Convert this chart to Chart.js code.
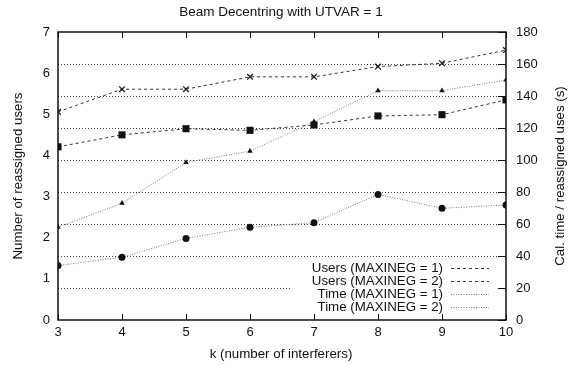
<!DOCTYPE html>
<html>
<head>
<meta charset="utf-8">
<script src="https://cdn.jsdelivr.net/npm/chart.js@4/dist/chart.umd.min.js"></script>
<style>
  html, body { margin: 0; padding: 0; background: #fff; }
  #wrap { width: 579px; height: 365px; }
</style>
</head>
<body>
<div id="wrap"><canvas id="chart" width="579" height="365"></canvas></div>
<script>
const kValues = [3, 4, 5, 6, 7, 8, 9, 10];
const usersMax1 = [5.06, 5.61, 5.61, 5.91, 5.91, 6.16, 6.24, 6.56];
const usersMax2 = [4.21, 4.50, 4.65, 4.61, 4.74, 4.96, 4.99, 5.35];
const timeMax1 = [58, 73, 98.5, 105.5, 124, 143.3, 143.3, 150];
const timeMax2 = [34, 39.2, 51, 58, 60.8, 78.5, 69.8, 71.9];

const leftTicks = [0, 1, 2, 3, 4, 5, 6, 7];
const rightTicks = [0, 20, 40, 60, 80, 100, 120, 140, 160, 180];

const legendLabels = [
  "Users (MAXINEG = 1)",
  "Users (MAXINEG = 2)",
  "Time (MAXINEG = 1)",
  "Time (MAXINEG = 2)"
];

const FONT = "'Liberation Sans', Arial, sans-serif";
const dashUsers = [3, 3];
const dashTime = [1, 1.5];

function points(values) {
  return kValues.map((k, i) => ({ x: k, y: values[i] }));
}

const datasets = [
  {
    label: legendLabels[0],
    data: points(usersMax1),
    yAxisID: "y",
    borderColor: "#333",
    borderWidth: 1,
    borderDash: dashUsers,
    pointStyle: "crossRot",
    pointRadius: 4,
    pointBorderColor: "#111",
    pointBorderWidth: 1.2
  },
  {
    label: legendLabels[1],
    data: points(usersMax2),
    yAxisID: "y",
    borderColor: "#333",
    borderWidth: 1,
    borderDash: dashUsers,
    pointStyle: "rect",
    pointRadius: 5,
    pointBackgroundColor: "#111",
    pointBorderColor: "#111",
    pointBorderWidth: 0
  },
  {
    label: legendLabels[2],
    data: points(timeMax1),
    yAxisID: "y2",
    borderColor: "#777",
    borderWidth: 1,
    borderDash: dashTime,
    pointStyle: "triangle",
    pointRadius: 3.2,
    pointBackgroundColor: "#111",
    pointBorderColor: "#111",
    pointBorderWidth: 0
  },
  {
    label: legendLabels[3],
    data: points(timeMax2),
    yAxisID: "y2",
    borderColor: "#777",
    borderWidth: 1,
    borderDash: dashTime,
    pointStyle: "circle",
    pointRadius: 3.5,
    pointBackgroundColor: "#111",
    pointBorderColor: "#111",
    pointBorderWidth: 0
  }
];

const framePlugin = {
  id: "frame",
  afterDatasetsDraw(chart) {
    const { ctx, chartArea: a, scales } = chart;
    ctx.save();

    // legend box (blanks the grid behind it)
    ctx.fillStyle = "#fff";
    ctx.fillRect(292, 262, 206, 52);
    ctx.font = "13.3px " + FONT;
    ctx.fillStyle = "#111";
    ctx.textAlign = "right";
    ctx.textBaseline = "middle";
    const rowY = [268, 281, 294, 307];
    legendLabels.forEach((text, i) => {
      ctx.fillText(text, 443, rowY[i]);
      ctx.beginPath();
      ctx.setLineDash(i < 2 ? dashUsers : dashTime);
      ctx.strokeStyle = i < 2 ? "#333" : "#777";
      ctx.lineWidth = 1;
      ctx.moveTo(451, rowY[i] + 0.5);
      ctx.lineTo(489, rowY[i] + 0.5);
      ctx.stroke();
    });
    ctx.setLineDash([]);

    // tick marks pointing inward
    ctx.strokeStyle = "#111";
    ctx.lineWidth = 1;
    ctx.beginPath();
    kValues.forEach((k) => {
      const x = Math.round(scales.x.getPixelForValue(k)) + 0.5;
      ctx.moveTo(x, a.bottom);
      ctx.lineTo(x, a.bottom - 6);
      ctx.moveTo(x, a.top);
      ctx.lineTo(x, a.top + 6);
    });
    rightTicks.forEach((v) => {
      const y = Math.round(scales.y2.getPixelForValue(v)) + 0.5;
      ctx.moveTo(a.right, y);
      ctx.lineTo(a.right - 8, y);
    });
    ctx.stroke();

    // plot border
    ctx.lineWidth = 1.5;
    ctx.strokeStyle = "#111";
    ctx.strokeRect(a.left, a.top, a.right - a.left, a.bottom - a.top);

    // titles
    ctx.fillStyle = "#111";
    ctx.textAlign = "center";
    ctx.textBaseline = "middle";
    ctx.font = "13.5px " + FONT;
    ctx.fillText("Beam Decentring with UTVAR = 1", 281, 12);
    ctx.font = "13.3px " + FONT;
    ctx.fillText("k (number of interferers)", 281, 354);

    ctx.save();
    ctx.translate(18, (a.top + a.bottom) / 2);
    ctx.rotate(-Math.PI / 2);
    ctx.fillText("Number of reassigned users", 0, 0);
    ctx.restore();

    ctx.save();
    ctx.translate(560, (a.top + a.bottom) / 2);
    ctx.rotate(-Math.PI / 2);
    ctx.fillText("Cal. time / reassigned uses (s)", 0, 0);
    ctx.restore();

    ctx.restore();
  }
};

new Chart(document.getElementById("chart"), {
  type: "line",
  data: { datasets },
  options: {
    responsive: false,
    animation: false,
    devicePixelRatio: 1,
    layout: { padding: { top: 32, left: 0, right: 0, bottom: 0 } },
    plugins: {
      legend: { display: false },
      title: { display: false },
      tooltip: { enabled: false }
    },
    scales: {
      x: {
        type: "linear",
        min: 3,
        max: 10,
        afterFit: (s) => { s.height = 45; },
        afterBuildTicks: (s) => { s.ticks = kValues.map((v) => ({ value: v })); },
        grid: { display: false, drawTicks: false },
        border: { display: false },
        ticks: { color: "#111", font: { family: FONT, size: 13 }, padding: 5 }
      },
      y: {
        type: "linear",
        position: "left",
        min: 0,
        max: 7,
        afterFit: (s) => { s.width = 58; },
        afterBuildTicks: (s) => { s.ticks = leftTicks.map((v) => ({ value: v })); },
        grid: { display: false, drawTicks: false },
        border: { display: false },
        ticks: { color: "#111", font: { family: FONT, size: 13 }, padding: 8 }
      },
      y2: {
        type: "linear",
        position: "right",
        min: 0,
        max: 180,
        afterFit: (s) => { s.width = 73; },
        afterBuildTicks: (s) => { s.ticks = rightTicks.map((v) => ({ value: v })); },
        grid: {
          drawTicks: false,
          color: (c) => (c.tick.value === 0 || c.tick.value === 180 ? "rgba(0,0,0,0)" : "#444"),
          lineWidth: 1
        },
        border: { display: false, dash: [1, 2] },
        ticks: { color: "#111", font: { family: FONT, size: 13 }, padding: 10 }
      }
    }
  },
  plugins: [framePlugin]
});
</script>
</body>
</html>
